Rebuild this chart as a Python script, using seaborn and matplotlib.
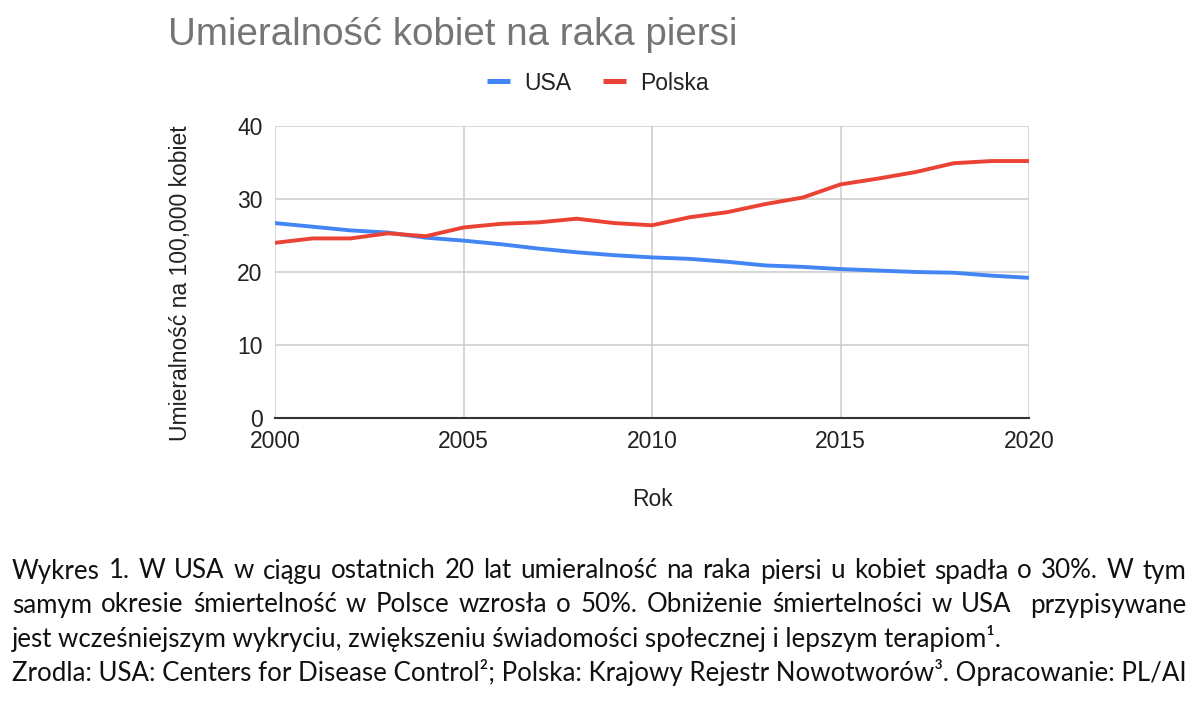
import numpy as np
import pandas as pd
import seaborn as sns
import matplotlib.pyplot as plt

years = list(range(2000, 2021))
usa = [26.7, 26.2, 25.7, 25.4, 24.7, 24.3, 23.8, 23.2, 22.7, 22.3, 22.0,
       21.8, 21.4, 20.9, 20.7, 20.4, 20.2, 20.0, 19.9, 19.5, 19.2]
polska = [24.0, 24.6, 24.6, 25.3, 24.9, 26.1, 26.6, 26.8, 27.3, 26.7, 26.4,
          27.5, 28.2, 29.3, 30.2, 32.0, 32.8, 33.7, 34.9, 35.2, 35.2]
series_names = ["USA", "Polska"]
colors = ["#4285F4", "#EA4335"]

title = "Umieralność kobiet na raka piersi"
xlabel = "Rok"
ylabel = "Umieralność na 100,000 kobiet"
xticks = [2000, 2005, 2010, 2015, 2020]
yticks = [0, 10, 20, 30, 40]

caption = [
    ("Wykres 1. W USA w ciągu ostatnich 20 lat umieralność na raka piersi u kobiet spadła o 30%. W tym", True),
    ("samym okresie śmiertelność w Polsce wzrosła o 50%. Obniżenie śmiertelności w USA  przypisywane", True),
    ("jest wcześniejszym wykryciu, zwiększeniu świadomości społecznej i lepszym terapiom¹.", False),
    ("Zrodla: USA: Centers for Disease Control²; Polska: Krajowy Rejestr Nowotworów³. Opracowanie: PL/AI", False),
]

df = pd.DataFrame({"Rok": years * 2,
                   "value": usa + polska,
                   "kraj": ["USA"] * len(years) + ["Polska"] * len(years)})

sns.set_style("white")
plt.rcParams["font.family"] = ["Liberation Sans", "DejaVu Sans"]

W, H = 1200, 704
fig = plt.figure(figsize=(W / 100, H / 100), dpi=100)
ax = fig.add_axes([275 / W, 1 - 418 / H, 754 / W, 292 / H])

sns.lineplot(data=df, x="Rok", y="value", hue="kraj", hue_order=series_names,
             palette=colors, linewidth=2.8, ax=ax, legend=False)

ax.set_xlim(2000, 2020)
ax.set_ylim(0, 40)
ax.set_xticks(xticks)
ax.set_yticks(yticks)
ax.grid(True, color="#cccccc", linewidth=1.1)
ax.set_axisbelow(True)
for s in ["top", "right", "left"]:
    ax.spines[s].set_visible(False)
ax.spines["bottom"].set_color("#333333")
ax.spines["bottom"].set_linewidth(1.5)
ax.spines["bottom"].set_zorder(3)
ax.tick_params(axis="both", length=0, labelsize=16.5, colors="#222222")
ax.tick_params(axis="x", pad=8.5)
ax.tick_params(axis="y", pad=9)

ax.set_xlabel(xlabel, fontsize=16.5, color="#222222")
ax.set_ylabel(ylabel, fontsize=16.5, color="#222222")
ax.xaxis.label.set_verticalalignment("center")
ax.yaxis.label.set_verticalalignment("center")
ax.xaxis.set_label_coords(0.5, (418 - 499) / 292)
ax.yaxis.set_label_coords((180 - 275) / 754, (418 - 283) / 292)

fig.text(168 / W, 1 - 35 / H, title, fontsize=27.7, color="#757575",
         ha="left", va="center")

handles = [plt.Line2D([], [], color=c, linewidth=3.6, solid_capstyle="butt") for c in colors]
fig.legend(handles, series_names, loc="center", bbox_to_anchor=(598 / W, 1 - 83 / H),
           ncol=2, frameon=False, fontsize=16.5, handlelength=1.0,
           handletextpad=0.65, columnspacing=1.35, labelcolor="#222222")

# caption (Lato, justified for the first two lines)
renderer = fig.canvas.get_renderer()
x0, x1 = 12, 1186
line_y = [571, 605, 639, 673]
cap_kw = dict(fontsize=18.6, color="#111111", family=["Lato", "DejaVu Sans"], va="center", ha="left")
for (line, justify), y in zip(caption, line_y):
    if not justify:
        fig.text(x0 / W, 1 - y / H, line, **cap_kw)
        continue
    words = line.split(" ")
    texts = [fig.text(0, 1 - y / H, w, **cap_kw) for w in words]
    widths = [t.get_window_extent(renderer).width for t in texts]
    gap = (x1 - x0 - sum(widths)) / (len(words) - 1)
    x = x0
    for t, w in zip(texts, widths):
        t.set_x(x / W)
        x += w + gap

fig.savefig("out.png", dpi=100, facecolor="white")
